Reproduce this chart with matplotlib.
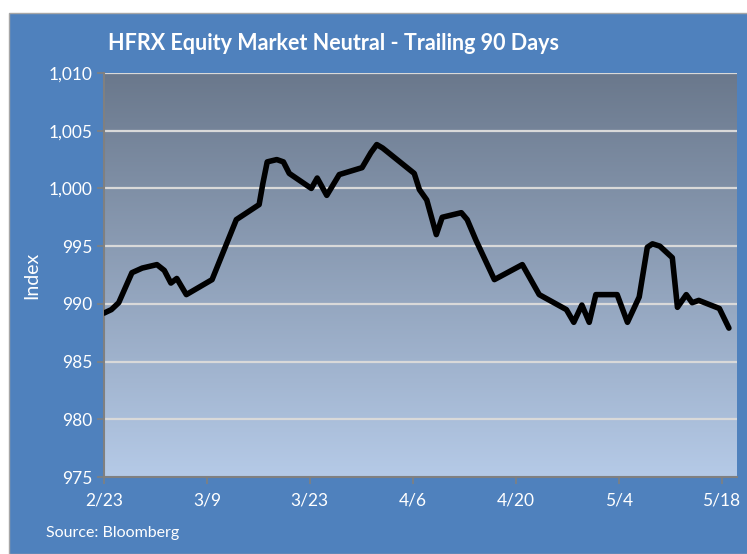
import numpy as np
import matplotlib
matplotlib.use("Agg")
import matplotlib.pyplot as plt
from matplotlib.patches import Rectangle

plt.rcParams["font.family"] = ["Lato", "DejaVu Sans"]

# days after 2/23 and HFRX index level
days = [0, 1.0, 2.0, 3.8, 5.2, 7.2, 8.2, 9.1, 9.9, 11.2, 14.7, 18.0, 21.1, 21.6,
        22.2, 23.5, 24.4, 25.2, 28.2, 29.0, 30.3, 32.0, 35.1, 36.3, 37.1, 37.9,
        42.2, 42.9, 43.9, 45.2, 46.0, 48.6, 49.4, 50.6, 53.1, 56.9, 59.2, 62.9,
        63.9, 65.0, 66.0, 66.9, 69.8, 71.2, 72.8, 73.9, 74.6, 75.6, 77.3, 78.0,
        79.2, 80.0, 80.9, 83.7, 85.0]
index = [989.2, 989.5, 990.1, 992.7, 993.1, 993.4, 992.9, 991.8, 992.2, 990.8,
         992.1, 997.3, 998.6, 1000.4, 1002.3, 1002.5, 1002.3, 1001.3, 1000.0,
         1000.9, 999.4, 1001.2, 1001.8, 1003.1, 1003.8, 1003.5, 1001.3, 999.9,
         999.0, 996.0, 997.5, 997.9, 997.3, 995.5, 992.1, 993.4, 990.8, 989.5,
         988.4, 989.9, 988.4, 990.8, 990.8, 988.4, 990.6, 994.9, 995.2, 995.0,
         994.0, 989.7, 990.8, 990.1, 990.3, 989.6, 987.9]

tick_days = [0, 14, 28, 42, 56, 70, 84]
tick_labels = ["2/23", "3/9", "3/23", "4/6", "4/20", "5/4", "5/18"]
y_ticks = [975, 980, 985, 990, 995, 1000, 1005, 1010]

W, H = 747, 554
fig = plt.figure(figsize=(W / 100, H / 100), dpi=100, facecolor="white")
# blue chart panel, behind the axes
fig.patches.append(Rectangle((9 / W, 0), 1, 1 - 13 / H, transform=fig.transFigure,
                             facecolor="#4f81bd", edgecolor="#a6a6a6", linewidth=1,
                             zorder=-10))

ax = fig.add_axes([104 / W, 77 / H, 633 / W, 404 / H])
ax.set_xlim(0, 86.1)
ax.set_ylim(975, 1010)

# gradient fill of the plot area
top = np.array([0x6a, 0x78, 0x8c]) / 255
bot = np.array([0xb5, 0xca, 0xe7]) / 255
t = np.linspace(0, 1, 256)[:, None]
grad = (top * (1 - t) + bot * t)[:, None, :]
ax.imshow(grad, extent=[0, 86.1, 975, 1010], aspect="auto", zorder=0)

for y in y_ticks[1:]:
    ax.axhline(y, color="#d9d9d9", linewidth=1.6, zorder=1)

ax.plot(days, index, color="black", linewidth=4, solid_joinstyle="round",
        solid_capstyle="round", zorder=3)

ax.set_xticks(tick_days)
ax.set_xticklabels(tick_labels)
ax.set_yticks(y_ticks)
ax.set_yticklabels([f"{v:,}" for v in y_ticks])
ax.tick_params(colors="#808080", labelcolor="white", labelsize=12.5, length=5,
               width=1.2, direction="out")
ax.tick_params(axis="x", pad=6)
for s in ["top", "right"]:
    ax.spines[s].set_visible(False)
for s in ["left", "bottom"]:
    ax.spines[s].set_color("#808080")
    ax.spines[s].set_linewidth(1.5)
ax.set_ylabel("Index", color="white", fontsize=14, labelpad=6)

fig.text(108 / W, 1 - 44 / H, "HFRX Equity Market Neutral - Trailing 90 Days",
         color="white", fontsize=15.5, fontweight="bold", va="center", ha="left")
fig.text(46 / W, 1 - 533 / H, "Source: Bloomberg", color="white", fontsize=11.5,
         va="center", ha="left")

fig.savefig("out.png", dpi=100, facecolor="white")
